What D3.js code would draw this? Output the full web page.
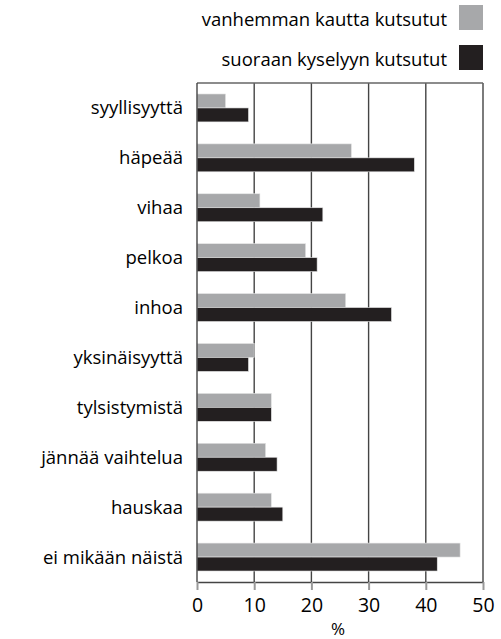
<!DOCTYPE html>
<html>
<head>
<meta charset="utf-8">
<script src="https://cdn.jsdelivr.net/npm/d3@7"></script>
<style>
  html, body { margin: 0; padding: 0; background: #fff; }
  svg { display: block; font-family: "Open Sans", "Noto Sans", sans-serif; }
</style>
</head>
<body>
<script>
const categories = ["syyllisyyttä", "häpeää", "vihaa", "pelkoa", "inhoa", "yksinäisyyttä", "tylsistymistä", "jännää vaihtelua", "hauskaa", "ei mikään näistä"];
const seriesNames = ["vanhemman kautta kutsutut", "suoraan kyselyyn kutsutut"];
const parentInvited = [5, 27, 11, 19, 26, 10, 13, 12, 13, 46];
const directInvited = [9, 38, 22, 21, 34, 9, 13, 14, 15, 42];
const xTicks = [0, 10, 20, 30, 40, 50];
const xLabel = "%";

const W = 501, H = 639;
const colors = ["#a7a8aa", "#231f20"];
const mLeft = 197, mRight = 483, mTop = 83, mBottom = 582;

const svg = d3.select("body").append("svg").attr("width", W).attr("height", H);

const x = d3.scaleLinear().domain([0, 50]).range([mLeft, mRight]);
const y = d3.scaleBand().domain(categories).range([mTop, mBottom]).paddingInner(22/50).paddingOuter(11/50);
const sub = d3.scaleBand().domain(seriesNames).range([0, y.bandwidth()]);

// grid lines
svg.append("g").selectAll("line").data(xTicks.slice(1)).join("line")
  .attr("x1", d => x(d)).attr("x2", d => x(d)).attr("y1", mTop).attr("y2", mBottom)
  .attr("stroke", "#444").attr("stroke-width", 1.4);
// top border
svg.append("line").attr("x1", mLeft).attr("x2", mRight).attr("y1", mTop).attr("y2", mTop)
  .attr("stroke", "#666").attr("stroke-width", 1.6);

// bars
const data = categories.map((c, i) => ({c, vals: [parentInvited[i], directInvited[i]]}));
const g = svg.append("g").selectAll("g").data(data).join("g")
  .attr("transform", d => `translate(0,${y(d.c)})`);
g.selectAll("rect").data(d => d.vals.map((v, j) => ({v, s: seriesNames[j], j}))).join("rect")
  .attr("x", x(0)).attr("y", d => sub(d.s)).attr("width", d => x(d.v) - x(0)).attr("height", sub.bandwidth())
  .attr("fill", d => colors[d.j]).attr("stroke", "#e6e6e6").attr("stroke-width", 0.6);

// left axis line
svg.append("line").attr("x1", mLeft).attr("x2", mLeft).attr("y1", mTop).attr("y2", mBottom)
  .attr("stroke", "#444").attr("stroke-width", 1.4);

// bottom axis
const ax = svg.append("g").attr("transform", `translate(0,${mBottom})`)
  .call(d3.axisBottom(x).tickValues(xTicks).tickSize(8).tickPadding(8).tickSizeOuter(0));
ax.select(".domain").attr("stroke", "#444").attr("stroke-width", 1.4);
ax.selectAll(".tick line").attr("stroke", "#999").attr("stroke-width", 2);
ax.selectAll(".tick text").attr("font-size", 19.5).attr("fill", "#000").attr("font-family", "Open Sans")
  .attr("dy", null).attr("y", 29.5);

svg.append("text").attr("x", 338).attr("y", 635).attr("text-anchor", "middle")
  .attr("font-size", 17).attr("fill", "#000").text(xLabel);

// category labels
svg.append("g").selectAll("text").data(categories).join("text")
  .attr("x", 183).attr("y", d => y(d) + y.bandwidth() / 2 + 6.5)
  .attr("text-anchor", "end").attr("font-size", 18.5).attr("fill", "#000").text(d => d);

// legend
const leg = svg.append("g").selectAll("g").data(seriesNames).join("g")
  .attr("transform", (d, i) => `translate(0,${5 + i * 40})`);
leg.append("rect").attr("x", 459).attr("y", 0).attr("width", 24).attr("height", 25)
  .attr("fill", (d, i) => colors[i]);
leg.append("text").attr("x", 447).attr("y", 21).attr("text-anchor", "end")
  .attr("font-size", 18.5).attr("fill", "#000").text(d => d);
</script>
</body>
</html>
